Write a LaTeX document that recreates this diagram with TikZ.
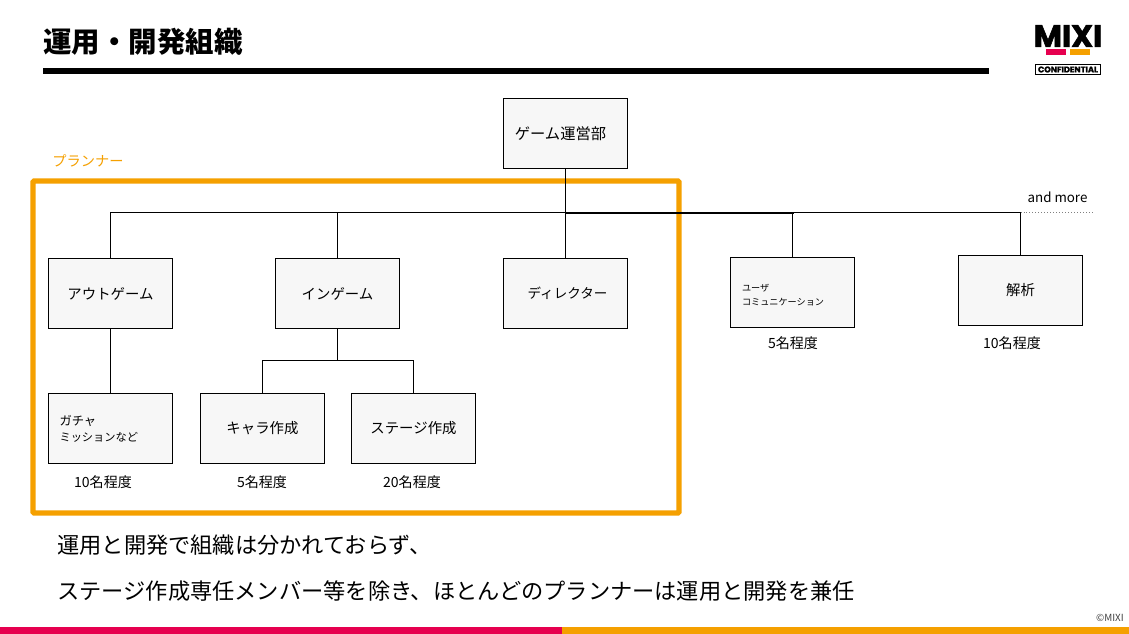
\documentclass[tikz,border=0pt]{standalone}
\usepackage{fontspec}
\setmainfont{Noto Sans CJK JP}
\newfontfamily\logofont[BoldFeatures={FakeBold=2}]{Poppins}
\definecolor{planner}{HTML}{F5A000}
\definecolor{mixipink}{HTML}{E6004F}
\definecolor{boxfill}{HTML}{F7F7F7}
\tikzset{
  orgbox/.style={draw,line width=.567pt,fill=boxfill,minimum width=2.48cm,minimum height=1.4cm,inner sep=0pt,font=\fontsize{8.2}{10}\selectfont},
  leftbox/.style={orgbox,align=left,text width=2.04cm,font=\fontsize{7}{9}\selectfont},
  smallbox/.style={orgbox,align=left,text width=2.02cm,font=\fontsize{5.2}{7.9}\selectfont},
  countlabel/.style={font=\fontsize{8}{9}\selectfont,inner sep=0pt},
  orgline/.style={line width=.567pt},
  saying/.style={anchor=west,inner sep=0pt,font=\fontsize{12.65}{14}\selectfont}
}
\begin{document}
\begin{tikzpicture}[x=.02cm,y=-.02cm]
  \path[use as bounding box,fill=white] (0,0) rectangle (1129,634);

  % header and footer
  \node[anchor=west,inner sep=0pt,font=\fontsize{16.2}{18}\selectfont\bfseries] (title) at (43,42) {運用・開発組織};
  \fill (43,68) rectangle (989,74);
  \fill[mixipink] (0,627) rectangle (562,634);
  \fill[planner] (562,627) rectangle (1129,634);
  \node[anchor=east,inner sep=0pt,font=\fontsize{5.6}{6}\selectfont,text=black!75] (copy) at (1124,618) {©MIXI};

  % logo
  \node[inner sep=0pt,font=\logofont\fontsize{17.5}{18}\selectfont\bfseries] (logo) at (1068,36) {MIXI};
  \fill[mixipink] (1046,49) rectangle (1066,55);
  \fill[planner] (1070,49) rectangle (1090,55);
  \node[draw,line width=.4pt,minimum width=1.3cm,minimum height=.19cm,inner sep=0pt,font=\logofont\fontsize{4.7}{5}\selectfont\bfseries] (conf) at (1068,69.5) {CONFIDENTIAL};

  % planner frame
  \draw[planner,line width=2.9pt,rounded corners=.5pt] (33,181) rectangle (679,513);
  \node[anchor=west,inner sep=0pt,text=planner,font=\fontsize{8.1}{9}\selectfont] (planner) at (52,161) {プランナー};

  % boxes
  \node[orgbox,font=\fontsize{8.7}{10}\selectfont] (top) at (565.5,133.5) {ゲーム運営部\hspace{.2cm}\mbox{}};
  \node[orgbox] (outgame) at (110.5,293.5) {アウトゲーム};
  \node[orgbox] (ingame) at (337.5,293.5) {インゲーム};
  \node[orgbox,font=\fontsize{7.7}{10}\selectfont] (director) at (565.5,293.5) {\hspace{.08cm}ディレクター};
  \node[smallbox] (user) at (792.5,292.5) {\rule{0pt}{6.9pt}ユーザ\\コミュニケーション};
  \node[orgbox] (analysis) at (1020.5,290.5) {解析};
  \node[leftbox] (gacha) at (110.5,428.5) {ガチャ\\{\fontsize{6.4}{9}\selectfont ミッションなど}};
  \node[orgbox] (chara) at (262.5,428.5) {キャラ作成};
  \node[orgbox] (stage) at (413.5,428.5) {ステージ作成};

  % counts
  \node[countlabel] (c1) at (793,343) {5名程度};
  \node[countlabel] (c2) at (1012,343) {10名程度};
  \node[countlabel] (c3) at (103,482) {10名程度};
  \node[countlabel] (c4) at (262,482) {5名程度};
  \node[countlabel] (c5) at (412,482) {20名程度};

  % connectors
  \coordinate (bus) at (565.5,212.5);
  \coordinate (split) at (337.5,360.5);
  \coordinate (more) at (1093,212.5);
  \draw[orgline] (top.south) -- (bus);
  \draw[orgline] (outgame.north) |- (bus);
  \draw[orgline] (ingame.north) |- (bus);
  \draw[orgline] (director.north) -- (bus);
  \draw[line width=1.13pt] (bus) ++(0,.5) -| (user.north |- bus);
  \draw[orgline] (user.north) -- (user.north |- bus);
  \draw[orgline] (analysis.north) |- (bus);
  \draw[orgline] (outgame.south) -- (gacha.north);
  \draw[orgline] (ingame.south) -- (split);
  \draw[orgline] (chara.north) |- (split);
  \draw[orgline] (stage.north) |- (split);
  \draw[line width=.567pt,black!50,dash pattern=on .57pt off 1.13pt] (analysis.north |- more) -- (more);
  \node[inner sep=0pt,font=\fontsize{7.6}{9}\selectfont] (andmore) at (1057.5,197) {and more};

  % closing text
  \node[saying] (say1) at (57,545) {運用と開発で組織は分かれておらず、};
  \node[saying] (say2) at (57,591) {ステージ作成専任メンバー等を除き、ほとんどのプランナーは運用と開発を兼任};
\end{tikzpicture}
\end{document}
